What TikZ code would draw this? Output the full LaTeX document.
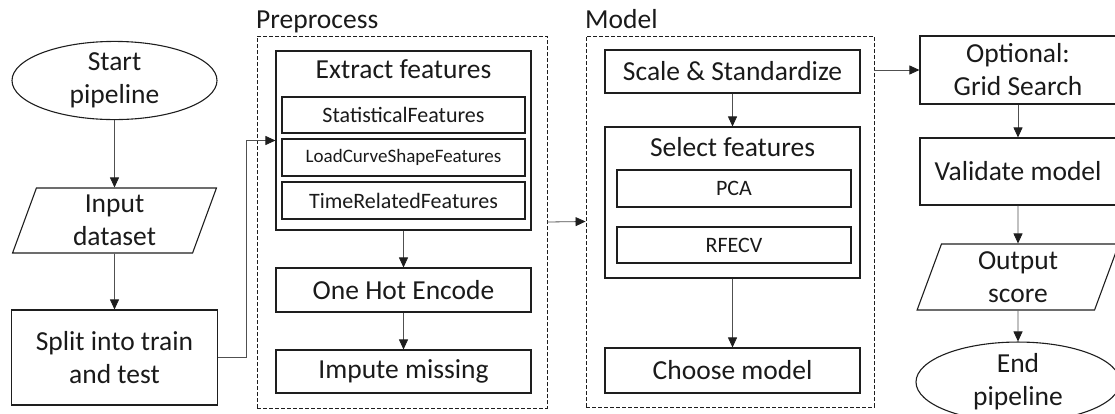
\documentclass[tikz,border=0pt]{standalone}
\usepackage{fontspec}
\setmainfont{Carlito}
\usetikzlibrary{arrows.meta,positioning,shapes.geometric}

\definecolor{boxc}{HTML}{1E1E1E}
\definecolor{linec}{HTML}{505050}
\definecolor{textc}{HTML}{1A1A1A}

\newcommand{\bigtxt}{\fontsize{27.5}{33}\selectfont}
\newcommand{\subtxt}{\fontsize{22}{26}\selectfont}

\begin{document}
\begin{tikzpicture}[x=1pt, y=-1pt, >={Triangle[length=10pt,width=9pt,color=boxc]},
    font=\bigtxt, text=textc,
    block/.style = {draw=boxc, line width=1.1pt, rectangle, inner sep=2pt, align=center},
    subblock/.style = {block, font=\subtxt},
    term/.style = {draw=boxc, line width=1.1pt, ellipse, inner sep=0pt, align=center},
    io/.style = {draw=boxc, line width=1.1pt, trapezium, trapezium left angle=76,
      trapezium right angle=104, trapezium stretches=true, inner sep=0pt, align=center},
    group/.style = {draw=boxc, line width=0.9pt, dash pattern=on 4pt off 2pt, rectangle},
    flow/.style = {draw=linec, line width=0.8pt, ->},]
    \useasboundingbox (0,0) rectangle (1115,413);
    % left column
    \node [term, minimum width=205, minimum height=75] (start) at (114.5,80.5) {Start\\pipeline};
    \node [io, minimum width=204, minimum height=65] (input) at (114.5,220.5) {Input\\dataset};
    \node [block, minimum width=206, minimum height=95] (split) at (114.5,357.5) {Split into train\\and test};
    % preprocess group
    \node [group, minimum width=290, minimum height=372] (pregrp) at (402,222) {};
    \node [anchor=base west, inner sep=0pt] (prelabel) at (256,28) {Preprocess};
    \node [block, minimum width=255, minimum height=179] (extract) at (403.5,140.5) {};
    \node [anchor=center, inner sep=0pt] (extracttitle) at (403.5,69) {Extract features};
    \node [subblock, minimum width=243, minimum height=36] (statfeat) at (403.5,115) {StatisticalFeatures};
    \node [subblock, minimum width=243, minimum height=37, font=\fontsize{19}{22}\selectfont] (loadfeat) at (403.5,157.5) {LoadCurveShapeFeatures};
    \node [subblock, minimum width=243, minimum height=37] (timefeat) at (403.5,200.5) {TimeRelatedFeatures};
    \node [block, minimum width=255, minimum height=44] (onehot) at (403.5,290) {One Hot Encode};
    \node [block, minimum width=255, minimum height=43] (impute) at (403.5,371.5) {Impute missing};
    % model group
    \node [group, minimum width=288, minimum height=371] (modelgrp) at (730,221.5) {};
    \node [anchor=base west, inner sep=0pt] (modellabel) at (585,28) {Model};
    \node [block, minimum width=255, minimum height=43] (scale) at (732.5,71.5) {Scale \& Standardize};
    \node [block, minimum width=255, minimum height=151] (select) at (732.5,202.5) {};
    \node [anchor=center, inner sep=0pt] (selecttitle) at (732.5,147) {Select features};
    \node [subblock, minimum width=234, minimum height=37] (pca) at (734,188.5) {PCA};
    \node [subblock, minimum width=234, minimum height=36] (rfecv) at (734,245) {RFECV};
    \node [block, minimum width=255, minimum height=45] (choose) at (732.5,370.5) {Choose model};
    % right column
    \node [block, minimum width=196, minimum height=68] (optional) at (1018,70) {Optional:\\Grid Search};
    \node [block, minimum width=196, minimum height=67] (validate) at (1018,171.5) {Validate model};
    \node [io, minimum width=202, minimum height=66] (output) at (1018,277) {Output\\score};
    \node [term, minimum width=204, minimum height=72] (finish) at (1018,382) {End\\pipeline};
    % connectors
    \draw[flow] (start) edge (input);
    \draw[flow] (input) edge (split);
    \draw[flow] (split.east) -- ++(28,0) |- (extract.west);
    \draw[flow] (extract) edge (onehot);
    \draw[flow] (onehot) edge (impute);
    \draw[flow] (pregrp.east) -- (modelgrp.west);
    \draw[flow] (scale) edge (select);
    \draw[flow] (select) edge (choose);
    \draw[flow] (modelgrp.east |- optional.west) -- (optional.west);
    \draw[flow] (optional) edge (validate);
    \draw[flow] (validate) edge (output);
    \draw[flow] (output) edge (finish);
  \end{tikzpicture}
\end{document}
